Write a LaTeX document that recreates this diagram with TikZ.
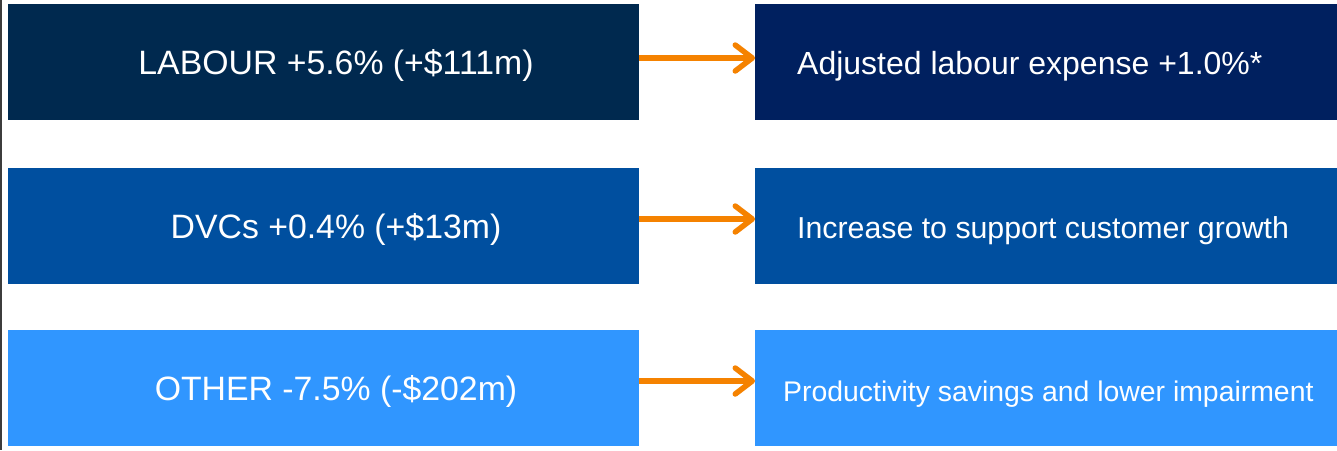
\documentclass[tikz,border=0pt]{standalone}
\usepackage{fontspec}
\setmainfont{Liberation Sans}
\usetikzlibrary{arrows.meta}

\definecolor{navyA}{HTML}{00294F}
\definecolor{navyB}{HTML}{00205F}
\definecolor{midblue}{HTML}{004F9F}
\definecolor{lightblue}{HTML}{3096FF}
\definecolor{arroworange}{HTML}{F58200}
\definecolor{edgegray}{HTML}{3C3C3C}

\tikzset{
  box/.style={anchor=north west, inner sep=0pt, outer sep=0pt, draw=none},
  leftbox/.style={box, minimum width=631pt, minimum height=116pt},
  rightbox/.style={box, minimum width=582pt, minimum height=116pt},
  bigtext/.style={text=white, inner sep=0pt, font=\fontsize{33.8}{40}\selectfont},
  righttext/.style={text=white, inner sep=0pt, anchor=base west, font=\fontsize{32}{38}\selectfont},
  smalltext/.style={text=white, inner sep=0pt, anchor=base west, font=\fontsize{28.4}{34}\selectfont},
  flow/.style={draw=arroworange, line width=5.5pt,
    -{Straight Barb[length=17pt, width=26pt, round]}},
}

\begin{document}
\begin{tikzpicture}[x=1pt, y=-1pt]
  \useasboundingbox (0,0) rectangle (1337,450);
  \fill[white] (0,0) rectangle (1337,450);
  \draw[edgegray, line width=1.6pt] (0.8,0) -- (0.8,450);

  % left column
  \node[leftbox, fill=navyA]     (L1) at (8,4)   {};
  \node[leftbox, fill=midblue]   (L2) at (8,168) {};
  \node[leftbox, fill=lightblue] (L3) at (8,330) {};

  % right column
  \node[rightbox, fill=navyB]     (R1) at (755,4)   {};
  \node[rightbox, fill=midblue]   (R2) at (755,168) {};
  \node[rightbox, fill=lightblue] (R3) at (755,330) {};

  % labels
  \node[bigtext, anchor=base] (t1) at (336,74)  {LABOUR +5.6\% (+\$111m)};
  \node[bigtext, anchor=base] (t2) at (336,238) {DVCs +0.4\% (+\$13m)};
  \node[bigtext, anchor=base] (t3) at (336,400) {OTHER -7.5\% (-\$202m)};

  \node[righttext] (u1) at (797,74)  {Adjusted labour expense +1.0\%*};
  \node[righttext, font=\fontsize{30.3}{36}\selectfont] (u2) at (797,238) {Increase to support customer growth};
  \node[smalltext] (u3) at (783,401) {Productivity savings and lower impairment};

  % connectors
  \draw[flow] ([yshift=4pt]L1.east) -- ([yshift=4pt]R1.west);
  \draw[flow] ([yshift=7pt]L2.east) -- ([yshift=7pt]R2.west);
  \draw[flow] ([yshift=7pt]L3.east) -- ([yshift=7pt]R3.west);
\end{tikzpicture}
\end{document}
